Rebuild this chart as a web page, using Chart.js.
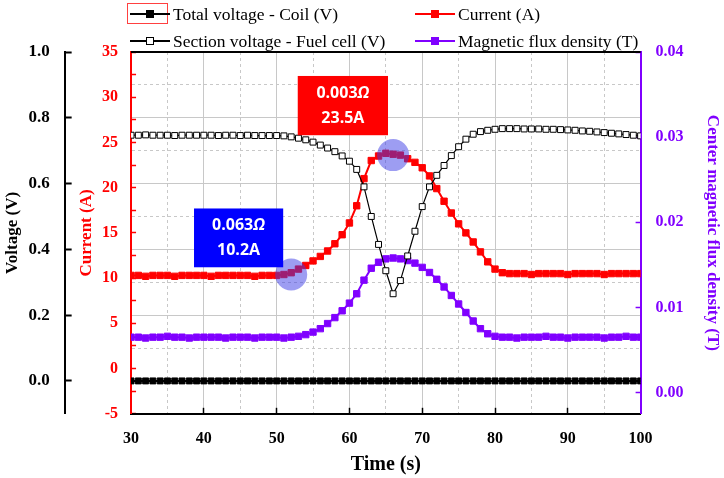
<!DOCTYPE html>
<html>
<head>
<meta charset="utf-8">
<script src="https://cdn.jsdelivr.net/npm/chart.js@4.4.0/dist/chart.umd.min.js"></script>
<style>
  body { margin: 0; background: #fff; }
  #wrap { position: relative; width: 724px; height: 478px; }
  .item { position: absolute; height: 20px; display: flex; align-items: center;
          font: 17.5px "Liberation Serif", "Times New Roman", serif; color: #000; white-space: nowrap; }
  .sample { position: relative; width: 40px; height: 2px; margin-right: 3px; }
  .sample i { position: absolute; left: 16px; top: -3px; width: 8px; height: 8px; box-sizing: border-box; }
  #hl { position: absolute; left: 127px; top: 3px; width: 41px; height: 21px; border: 1.5px solid #ff4040; box-sizing: border-box; }
</style>
</head>
<body>
<div id="wrap">
  <canvas id="chart" width="724" height="478"></canvas>
  <div id="hl"></div>
  <div class="item" style="left:130px; top:4px"><span class="sample" style="background:#000"><i style="background:#000"></i></span>Total voltage - Coil (V)</div>
  <div class="item" style="left:130px; top:31px"><span class="sample" style="background:#000"><i style="background:#fff;border:1px solid #000"></i></span>Section voltage - Fuel cell (V)</div>
  <div class="item" style="left:415px; top:4px"><span class="sample" style="background:#ff0000"><i style="background:#ff0000"></i></span>Current (A)</div>
  <div class="item" style="left:415px; top:31px"><span class="sample" style="background:#8000ff"><i style="background:#8000ff"></i></span>Magnetic flux density (T)</div>
</div>
<script>
// time (s), one sample per second
const times = [30, 31, 32, 33, 34, 35, 36, 37, 38, 39, 40, 41, 42, 43, 44, 45, 46, 47, 48, 49,
  50, 51, 52, 53, 54, 55, 56, 57, 58, 59, 60, 61, 62, 63, 64, 65, 66, 67, 68, 69,
  70, 71, 72, 73, 74, 75, 76, 77, 78, 79, 80, 81, 82, 83, 84, 85, 86, 87, 88, 89,
  90, 91, 92, 93, 94, 95, 96, 97, 98, 99, 100];

// Total voltage - Coil (V)
const totalVoltage = [0, 0, 0, 0, 0, 0, 0, 0, 0, 0, 0, 0, 0, 0, 0, 0, 0, 0, 0, 0,
  0, 0, 0, 0, 0, 0, 0, 0, 0, 0, 0, 0, 0, 0, 0, 0, 0, 0, 0, 0,
  0, 0, 0, 0, 0, 0, 0, 0, 0, 0, 0, 0, 0, 0, 0, 0, 0, 0, 0, 0,
  0, 0, 0, 0, 0, 0, 0, 0, 0, 0, 0];

// Section voltage - Fuel cell (V)
const sectionVoltage = [0.747, 0.747, 0.748, 0.747, 0.747, 0.747, 0.746, 0.747, 0.747, 0.747,
  0.747, 0.747, 0.746, 0.747, 0.747, 0.746, 0.747, 0.746, 0.746, 0.746,
  0.746, 0.745, 0.742, 0.738, 0.733, 0.726, 0.717, 0.708, 0.697, 0.684,
  0.668, 0.643, 0.590, 0.500, 0.415, 0.335, 0.265, 0.305, 0.380, 0.455,
  0.530, 0.590, 0.625, 0.655, 0.685, 0.712, 0.735, 0.750, 0.758, 0.762,
  0.765, 0.767, 0.767, 0.767, 0.766, 0.766, 0.766, 0.765, 0.765, 0.764,
  0.763, 0.762, 0.760, 0.759, 0.757, 0.755, 0.753, 0.751, 0.749, 0.747, 0.745];

// Current (A)
const current = [10.3, 10.3, 10.2, 10.3, 10.3, 10.3, 10.2, 10.3, 10.3, 10.3,
  10.3, 10.2, 10.3, 10.3, 10.3, 10.3, 10.3, 10.2, 10.3, 10.3,
  10.3, 10.4, 10.6, 11.0, 11.4, 11.9, 12.4, 13.0, 13.8, 14.8,
  16.1, 18.0, 21.0, 23.0, 23.5, 23.8, 23.7, 23.6, 23.2, 22.8,
  22.2, 21.3, 19.9, 18.5, 17.2, 16.0, 15.0, 14.0, 12.9, 11.8,
  11.0, 10.6, 10.5, 10.5, 10.5, 10.4, 10.5, 10.5, 10.5, 10.5,
  10.4, 10.5, 10.5, 10.5, 10.5, 10.4, 10.5, 10.5, 10.5, 10.5, 10.5];

// Magnetic flux density (T)
const fluxDensity = [0.0065, 0.0065, 0.0064, 0.0065, 0.0065, 0.0066, 0.0065, 0.0065, 0.0064, 0.0065,
  0.0065, 0.0065, 0.0065, 0.0064, 0.0065, 0.0065, 0.0065, 0.0064, 0.0065, 0.0065,
  0.0065, 0.0064, 0.0065, 0.0066, 0.0068, 0.0071, 0.0075, 0.0081, 0.0088, 0.0096,
  0.0105, 0.0116, 0.0132, 0.0146, 0.0153, 0.0157, 0.0158, 0.0157, 0.0155, 0.0152,
  0.0147, 0.0141, 0.0133, 0.0124, 0.0114, 0.0104, 0.0094, 0.0084, 0.0075, 0.0069,
  0.0066, 0.0065, 0.0065, 0.0064, 0.0065, 0.0065, 0.0065, 0.0066, 0.0065, 0.0065,
  0.0064, 0.0065, 0.0065, 0.0065, 0.0065, 0.0064, 0.0065, 0.0065, 0.0066, 0.0065, 0.0065];

// highlighted points and their notes
const noteTimes = [52, 66];
const noteAmps = [10.4, 23.6];
const noteOhms = ['0.063', '0.003'];
const noteLabels = ['10.2A', '23.5A'];

const serif = '"Liberation Serif", "Times New Roman", serif';
const PURPLE = '#8000ff';

function pts(arr) {
  return times.map((t, i) => ({ x: t, y: arr[i] }));
}

// note boxes: [x1, x2] in s, [top, bottom] in A
const noteBoxes = [
  { x: [38.65, 50.9], y: [17.7, 11.2], color: '#0000ff' },
  { x: [52.9, 65.3], y: [32.35, 25.8], color: '#ff0000' }
];

const notesPlugin = {
  id: 'notes',
  afterDatasetsDraw(chart) {
    const { ctx, chartArea, scales } = chart;
    const sx = scales.x, sy = scales.current;
    ctx.save();
    // top frame line
    ctx.strokeStyle = '#000';
    ctx.lineWidth = 2;
    ctx.beginPath();
    ctx.moveTo(chartArea.left, chartArea.top);
    ctx.lineTo(chartArea.right, chartArea.top);
    ctx.stroke();

    // highlight circles
    noteTimes.forEach((t, i) => {
      ctx.beginPath();
      ctx.fillStyle = 'rgba(60, 60, 230, 0.5)';
      ctx.arc(sx.getPixelForValue(t), sy.getPixelForValue(noteAmps[i]), 16, 0, Math.PI * 2);
      ctx.fill();
    });

    // boxes
    noteBoxes.forEach((b, i) => {
      const x1 = sx.getPixelForValue(b.x[0]), x2 = sx.getPixelForValue(b.x[1]);
      const y1 = sy.getPixelForValue(b.y[0]), y2 = sy.getPixelForValue(b.y[1]);
      ctx.fillStyle = b.color;
      ctx.fillRect(x1, y1, x2 - x1, y2 - y1);
      const cx = (x1 + x2) / 2, cy = (y1 + y2) / 2;
      ctx.fillStyle = '#fff';
      ctx.textBaseline = 'middle';
      const nFont = 'bold 16px "Open Sans", "Noto Sans", sans-serif';
      const oFont = 'italic bold 16px "Open Sans", "Noto Sans", sans-serif';
      ctx.font = nFont;
      const w1 = ctx.measureText(noteOhms[i]).width;
      ctx.font = oFont;
      const w2 = ctx.measureText('Ω').width;
      let sx0 = cx - (w1 + w2) / 2;
      ctx.textAlign = 'left';
      ctx.font = nFont;
      ctx.fillText(noteOhms[i], sx0, cy - 12);
      ctx.font = oFont;
      ctx.fillText('Ω', sx0 + w1, cy - 12);
      ctx.font = nFont;
      ctx.textAlign = 'center';
      ctx.fillText(noteLabels[i], cx, cy + 13);
    });
    ctx.restore();
  }
};

const isEvenTenth = v => Math.round(v * 10) % 2 === 0;

new Chart(document.getElementById('chart'), {
  type: 'line',
  data: {
    datasets: [
      {
        label: 'Section voltage - Fuel cell (V)',
        data: pts(sectionVoltage), yAxisID: 'voltage',
        borderColor: '#000', borderWidth: 1.2,
        pointStyle: 'rect', pointRadius: 4.2, pointBackgroundColor: '#fff',
        pointBorderColor: '#000', pointBorderWidth: 1
      },
      {
        label: 'Total voltage - Coil (V)',
        data: pts(totalVoltage), yAxisID: 'voltage',
        borderColor: '#000', borderWidth: 2,
        pointStyle: 'rect', pointRadius: 4.2, pointBackgroundColor: '#000',
        pointBorderColor: '#000', pointBorderWidth: 1
      },
      {
        label: 'Current (A)',
        data: pts(current), yAxisID: 'current',
        borderColor: '#ff0000', borderWidth: 2,
        pointStyle: 'rect', pointRadius: 4.5, pointBackgroundColor: '#ff0000',
        pointBorderColor: '#ff0000', pointBorderWidth: 1
      },
      {
        label: 'Magnetic flux density (T)',
        data: pts(fluxDensity), yAxisID: 'flux',
        borderColor: PURPLE, borderWidth: 2,
        pointStyle: 'rect', pointRadius: 4.5, pointBackgroundColor: PURPLE,
        pointBorderColor: PURPLE, pointBorderWidth: 1
      }
    ]
  },
  options: {
    responsive: false,
    animation: false,
    layout: { padding: { top: 52, right: 0, bottom: 0, left: 0 } },
    plugins: { legend: { display: false }, tooltip: { enabled: false } },
    scales: {
      x: {
        type: 'linear', position: 'bottom', min: 30, max: 100,
        ticks: {
          stepSize: 5, padding: 21, color: '#000',
          font: { family: serif, size: 16, weight: 'bold' },
          callback: v => (v % 10 === 0 ? v : '')
        },
        grid: {
          color: '#c8c8c8', lineWidth: 1, tickLength: -6, tickWidth: 1.5,
          tickColor: c => (c.tick && c.tick.value % 10 === 0 && c.tick.value > 30 && c.tick.value < 100 ? '#000' : 'rgba(0,0,0,0)')
        },
        border: { color: '#000', width: 2, dash: c => (c.tick && c.tick.value % 10 !== 0 ? [3, 3] : []) },
        title: {
          display: true, text: 'Time (s)', color: '#000',
          font: { family: serif, size: 20, weight: 'bold' },
          padding: { top: -16, bottom: 1 }
        }
      },
      voltage: {
        type: 'linear', position: 'left', weight: 1, min: -0.1, max: 1.0,
        ticks: {
          stepSize: 0.1, padding: 22, color: '#000',
          font: { family: serif, size: 17, weight: 'bold' },
          callback: v => (isEvenTenth(v) && v > -0.05 ? v.toFixed(1) : '')
        },
        grid: {
          color: '#c8c8c8', lineWidth: 1, tickLength: -7, tickWidth: 2,
          tickColor: c => (c.tick && isEvenTenth(c.tick.value) && c.tick.value > -0.05 ? '#000' : 'rgba(0,0,0,0)')
        },
        border: { color: '#000', width: 2, dash: c => (c.tick && !isEvenTenth(c.tick.value) ? [3, 3] : []) },
        title: {
          display: true, text: 'Voltage (V)', color: '#000',
          font: { family: serif, size: 17, weight: 'bold' },
          padding: { top: 2, bottom: -16 }
        }
      },
      current: {
        type: 'linear', position: 'left', weight: 0, min: -5, max: 35,
        ticks: {
          stepSize: 2.5, padding: 18, color: '#ff0000',
          font: { family: serif, size: 16, weight: 'bold' },
          callback: v => (v % 5 === 0 ? v : '')
        },
        grid: { drawOnChartArea: false, tickLength: -5, tickWidth: 1.5, tickColor: '#ff0000' },
        border: { color: '#ff0000', width: 2 },
        title: {
          display: true, text: 'Current (A)', color: '#ff0000',
          font: { family: serif, size: 17, weight: 'bold' },
          padding: { top: 12, bottom: -13 }
        }
      },
      flux: {
        type: 'linear', position: 'right', min: -0.0025, max: 0.04,
        ticks: {
          stepSize: 0.01, padding: 20, color: PURPLE,
          font: { family: serif, size: 16, weight: 'bold' },
          callback: v => (v >= 0 ? v.toFixed(2) : '')
        },
        grid: {
          drawOnChartArea: false, tickLength: -5, tickWidth: 1.5,
          tickColor: c => (c.tick && c.tick.value >= 0 ? PURPLE : 'rgba(0,0,0,0)')
        },
        border: { color: PURPLE, width: 2 },
        title: {
          display: true, text: 'Center magnetic flux density (T)', color: PURPLE,
          font: { family: serif, size: 17, weight: 'bold' },
          padding: { top: 1, bottom: -1 }
        }
      }
    }
  },
  plugins: [notesPlugin]
});
</script>
</body>
</html>
